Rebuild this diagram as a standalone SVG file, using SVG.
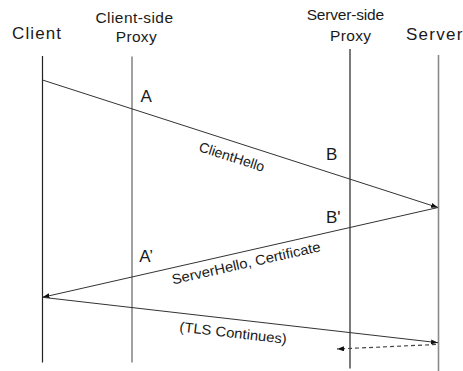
<svg xmlns="http://www.w3.org/2000/svg" width="463" height="371" viewBox="0 0 463 371">
<style>
text{font-family:"Liberation Sans",Arial,sans-serif;fill:#1a1a1a}
.hdr{font-size:17px}
.hdr2{font-size:15.5px}
.lbl{font-size:17px}
.msg{font-size:14px}
.life-dark{stroke:#222;stroke-width:1.2}
.life-gray{stroke:#8a8a8a;stroke-width:1.6}
.arrow{stroke:#333;stroke-width:1;fill:none;marker-end:url(#ah)}
.dash{stroke:#444;stroke-width:1.2;fill:none;stroke-dasharray:4 3;marker-end:url(#ah)}
</style>
<defs>
<marker id="ah" markerUnits="userSpaceOnUse" markerWidth="8" markerHeight="6" refX="7" refY="2.5" orient="auto">
<path d="M0,0 L7,2.5 L0,5 z" fill="#111"/>
</marker>
</defs>
<rect width="463" height="371" fill="#fff"/>
<g id="client">
<text class="hdr" x="12" y="39" textLength="49" lengthAdjust="spacing">Client</text>
<line class="life-dark" x1="42.5" y1="56" x2="42.5" y2="362.5"/>
</g>
<g id="client-proxy">
<text class="hdr2" x="95.5" y="23" textLength="77.5" lengthAdjust="spacing">Client-side</text>
<text class="hdr2" x="115.7" y="42.4" textLength="41" lengthAdjust="spacing">Proxy</text>
<line class="life-gray" x1="132" y1="56.5" x2="132" y2="362.5"/>
</g>
<g id="server-proxy">
<text class="hdr2" x="306.7" y="20" textLength="77.3" lengthAdjust="spacing">Server-side</text>
<text class="hdr2" x="330" y="40.7" textLength="41" lengthAdjust="spacing">Proxy</text>
<line class="life-dark" x1="350" y1="49" x2="350" y2="368.5"/>
</g>
<g id="server">
<text class="hdr" x="406" y="39.5" textLength="56.4" lengthAdjust="spacing">Server</text>
<line class="life-gray" x1="438.5" y1="55" x2="438.5" y2="371"/>
</g>
<g id="points">
<text class="lbl" x="140.5" y="102.3">A</text>
<text class="lbl" x="326" y="160">B</text>
<text class="lbl" x="326" y="223.3">B'</text>
<text class="lbl" x="139.3" y="262.3">A’</text>
</g>
<g id="connectors">
<line class="arrow" x1="42.5" y1="80" x2="438" y2="207.5"/>
<line class="arrow" x1="438" y1="207.5" x2="42.5" y2="297.3"/>
<line class="arrow" x1="42.5" y1="297.3" x2="438" y2="342.7"/>
<line class="dash" x1="436" y1="344.5" x2="337" y2="349"/>
</g>
<g id="messages">
<text class="msg" transform="translate(198,151) rotate(17.8)" textLength="68" lengthAdjust="spacingAndGlyphs">ClientHello</text>
<text class="msg" transform="translate(173,284.5) rotate(-12.7)" textLength="152" lengthAdjust="spacingAndGlyphs">ServerHello, Certificate</text>
<text class="msg" transform="translate(179,331.5) rotate(6.6)" textLength="108" lengthAdjust="spacingAndGlyphs">(TLS Continues)</text>
</g>
</svg>
